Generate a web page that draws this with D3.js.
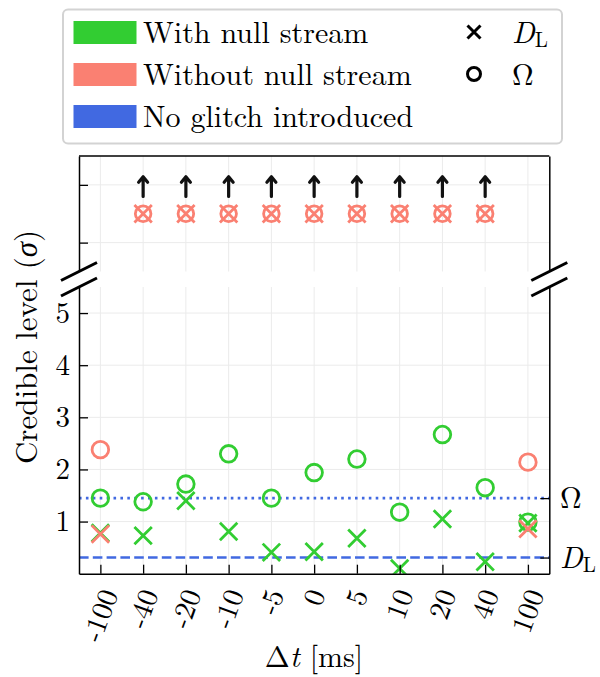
<!DOCTYPE html>
<html>
<head>
<meta charset="utf-8">
<script src="https://cdn.jsdelivr.net/npm/d3@7"></script>
<style>
  body { margin: 0; background: #fff; }
</style>
</head>
<body>
<svg id="chart" width="600" height="677"></svg>
<script>
// glitch time offsets (ms), one category per column
const offsets = ["-100", "-40", "-20", "-10", "-5", "0", "5", "10", "20", "40", "100"]

// credible levels (sigma) with the null stream
const dlWith    = [0.78, 0.73, 1.40, 0.81, 0.41, 0.42, 0.68, 0.10, 1.05, 0.23, 0.97]
const omegaWith = [1.45, 1.38, 1.72, 2.30, 1.45, 1.94, 2.20, 1.18, 2.67, 1.65, 0.99]

// without the null stream; null means off the scale (shown capped in upper panel)
const dlWithout    = [0.76, null, null, null, null, null, null, null, null, null, 0.86]
const omegaWithout = [2.38, null, null, null, null, null, null, null, null, null, 2.14]

// reference levels when no glitch is introduced
const noGlitchOmega = 1.45
const noGlitchDL = 0.31

const lowerTicks = [1, 2, 3, 4, 5]
const upperTicks = [6.5, 7.5]
const capLevel = 7

const green = "#32cd32", salmon = "#fa8072", blue = "#4169e1"
const serif = '"Latin Modern Roman", "Liberation Serif", serif'

const svg = d3.select("#chart")

// every text gets the font inline
const txt = (sel, size) => sel.style("font-family", serif).style("font-size", size + "px").attr("fill", "#000")

const left = 79, right = 549.3
const x = d3.scalePoint().domain(offsets).range([left, right]).padding(0.5)
const yLow = d3.scaleLinear().domain([0, 5.5]).range([573.7, 287])
const yTop = d3.scaleLinear().domain([6, 8]).range([271.5, 156])

// grid lines
function grid(g, y, ticks) {
  g.selectAll("line.v").data(offsets).enter().append("line")
    .attr("x1", d => x(d)).attr("x2", d => x(d))
    .attr("y1", y.range()[0]).attr("y2", y.range()[1])
    .attr("stroke", "#ebebeb").attr("stroke-width", 1)
  g.selectAll("line.h").data(ticks).enter().append("line")
    .attr("x1", left).attr("x2", right)
    .attr("y1", d => y(d)).attr("y2", d => y(d))
    .attr("stroke", "#ebebeb").attr("stroke-width", 1)
}
grid(svg.append("g"), yTop, upperTicks)
grid(svg.append("g"), yLow, lowerTicks)

// clip for lower panel
svg.append("clipPath").attr("id", "lowClip").append("rect")
  .attr("x", left).attr("y", yLow.range()[1])
  .attr("width", right - left).attr("height", yLow.range()[0] - yLow.range()[1])

const low = svg.append("g").attr("clip-path", "url(#lowClip)")

low.append("line")
  .attr("x1", left).attr("x2", right)
  .attr("y1", yLow(noGlitchOmega)).attr("y2", yLow(noGlitchOmega))
  .attr("stroke", blue).attr("stroke-width", 2.6).attr("stroke-dasharray", "2.6,4.3")
low.append("line")
  .attr("x1", left).attr("x2", right)
  .attr("y1", yLow(noGlitchDL)).attr("y2", yLow(noGlitchDL))
  .attr("stroke", blue).attr("stroke-width", 2.6).attr("stroke-dasharray", "9.6,4.2")

const cross = s => `M${-s},${-s}L${s},${s}M${-s},${s}L${s},${-s}`

function crosses(g, vals, y, color) {
  g.selectAll(null).data(offsets.map((d, i) => [d, vals[i]]).filter(d => d[1] != null))
    .enter().append("path")
    .attr("transform", d => `translate(${x(d[0])},${y(d[1])})`)
    .attr("d", cross(8.7))
    .attr("fill", "none").attr("stroke", color).attr("stroke-width", 2.8)
}
function circles(g, vals, y, color) {
  g.selectAll(null).data(offsets.map((d, i) => [d, vals[i]]).filter(d => d[1] != null))
    .enter().append("circle")
    .attr("cx", d => x(d[0])).attr("cy", d => y(d[1])).attr("r", 8.3)
    .attr("fill", "none").attr("stroke", color).attr("stroke-width", 2.8)
}

crosses(low, dlWith, yLow, green)
circles(low, omegaWith, yLow, green)
crosses(low, dlWithout, yLow, salmon)
circles(low, omegaWithout, yLow, salmon)

// upper panel: off-scale points, capped with arrows
const capped = offsets.filter((d, i) => omegaWithout[i] == null)
const upper = svg.append("g")
upper.selectAll(null).data(capped).enter().append("path")
  .attr("transform", d => `translate(${x(d)},${yTop(capLevel)})`)
  .attr("d", cross(8.7))
  .attr("fill", "none").attr("stroke", salmon).attr("stroke-width", 2.8)
upper.selectAll(null).data(capped).enter().append("circle")
  .attr("cx", d => x(d)).attr("cy", yTop(capLevel)).attr("r", 7.8)
  .attr("fill", "none").attr("stroke", salmon).attr("stroke-width", 2.8)
upper.selectAll(null).data(capped).enter().append("path")
  .attr("transform", d => `translate(${x(d)},0)`)
  .attr("d", d => `M0,${yTop(capLevel + 0.3)}V${yTop(capLevel + 0.64)}M-4.5,${yTop(capLevel + 0.64) + 5.5}L0,${yTop(capLevel + 0.64)}L4.5,${yTop(capLevel + 0.64) + 5.5}`)
  .attr("fill", "none").attr("stroke", "#111").attr("stroke-width", 3.2)
  .attr("stroke-linecap", "round").attr("stroke-linejoin", "round")

// axes
const axes = svg.append("g")
const style = g => {
  g.selectAll(".domain").attr("stroke", "#000").attr("stroke-width", 1.5)
  g.selectAll(".tick line").attr("stroke", "#000").attr("stroke-width", 1.3)
  txt(g.selectAll(".tick text"), 29)
}

axes.append("g").attr("transform", `translate(${left},0)`)
  .call(d3.axisLeft(yLow).tickValues(lowerTicks).tickSizeInner(-9).tickSizeOuter(0).tickPadding(9).tickFormat(d3.format("d")))
  .call(style)
axes.append("g").attr("transform", `translate(${left},0)`)
  .call(d3.axisLeft(yTop).tickValues(upperTicks).tickSizeInner(-9).tickSizeOuter(0).tickFormat(""))
  .call(style)
axes.append("g").attr("transform", `translate(${right},0)`)
  .call(d3.axisRight(yLow).tickValues([noGlitchOmega, noGlitchDL]).tickSizeInner(-9).tickSizeOuter(0).tickFormat(""))
  .call(style)
axes.append("g").attr("transform", `translate(${right},0)`)
  .call(d3.axisRight(yTop).tickValues([]).tickSizeOuter(0))
  .call(style)
axes.append("g").attr("transform", `translate(0,${yLow(0)})`)
  .call(d3.axisBottom(x).tickSizeInner(-9).tickSizeOuter(0).tickFormat(""))
  .call(style)
axes.append("line").attr("x1", left).attr("x2", right)
  .attr("y1", yTop.range()[1]).attr("y2", yTop.range()[1])
  .attr("stroke", "#000").attr("stroke-width", 1.5)

// rotated x tick labels, bounding box centred on the tick
const ang = 70 * Math.PI / 180
svg.append("g").selectAll("text").data(offsets).enter().append("text")
  .call(txt, 29)
  .attr("text-anchor", "middle").attr("dy", "0.33em")
  .text(d => d)
  .each(function(d) {
    const L = this.getComputedTextLength(), h = 21
    const bh = L * Math.sin(ang) + h * Math.cos(ang)
    d3.select(this).attr("transform", `translate(${x(d)},${587 + bh / 2}) rotate(-70)`)
  })

// axis break marks
const breaks = svg.append("g").attr("stroke", "#000").attr("stroke-width", 3)
;[left, right].forEach(bx => {
  ;[yTop.range()[0], yLow.range()[1]].forEach(by => {
    breaks.append("line").attr("x1", bx - 18).attr("y1", by + 9).attr("x2", bx + 18).attr("y2", by - 9)
  })
})

// right-hand reference labels
svg.append("text").call(txt, 30).attr("x", 560).attr("y", yLow(noGlitchOmega) + 10).text("Ω")
const dl = svg.append("text").call(txt, 30).attr("x", 560).attr("y", yLow(noGlitchDL) + 10)
dl.append("tspan").attr("font-style", "italic").text("D")
dl.append("tspan").attr("dy", 4).style("font-size", "21px").text("L")

// axis titles
const xt = svg.append("text").call(txt, 30).attr("x", 314).attr("y", 667).attr("text-anchor", "middle")
xt.append("tspan").text("Δ")
xt.append("tspan").attr("font-style", "italic").text("t")
xt.append("tspan").text(" [ms]")

const yt = svg.append("text").call(txt, 31).attr("transform", "translate(37,347) rotate(-90)")
  .attr("text-anchor", "middle")
yt.append("tspan").text("Credible level (")
yt.append("tspan").attr("font-style", "italic").text("σ")
yt.append("tspan").text(")")

// legend
const leg = svg.append("g")
leg.append("rect").attr("x", 63).attr("y", 9.5).attr("width", 499).attr("height", 134)
  .attr("rx", 5).attr("fill", "#fff").attr("stroke", "#d3d3d3").attr("stroke-width", 2)
const legendLabels = ["With null stream", "Without null stream", "No glitch introduced"]
const legendColors = [green, salmon, blue]
legendLabels.forEach((t, i) => {
  const cy = 32.5 + i * 42
  leg.append("rect").attr("x", 73.5).attr("y", cy - 11.5).attr("width", 63).attr("height", 23)
    .attr("fill", legendColors[i])
  leg.append("text").call(txt, 30).attr("x", 143).attr("y", cy + 10.5).text(t)
})
leg.append("path").attr("transform", "translate(474,32)").attr("d", cross(6.5))
  .attr("stroke", "#000").attr("stroke-width", 3).attr("fill", "none")
leg.append("circle").attr("cx", 474).attr("cy", 74).attr("r", 6.5)
  .attr("stroke", "#000").attr("stroke-width", 3).attr("fill", "none")
const ld = leg.append("text").call(txt, 30).attr("x", 512).attr("y", 43)
ld.append("tspan").attr("font-style", "italic").text("D")
ld.append("tspan").attr("dy", 4).style("font-size", "21px").text("L")
leg.append("text").call(txt, 30).attr("x", 512).attr("y", 85).text("Ω")
</script>
</body>
</html>
